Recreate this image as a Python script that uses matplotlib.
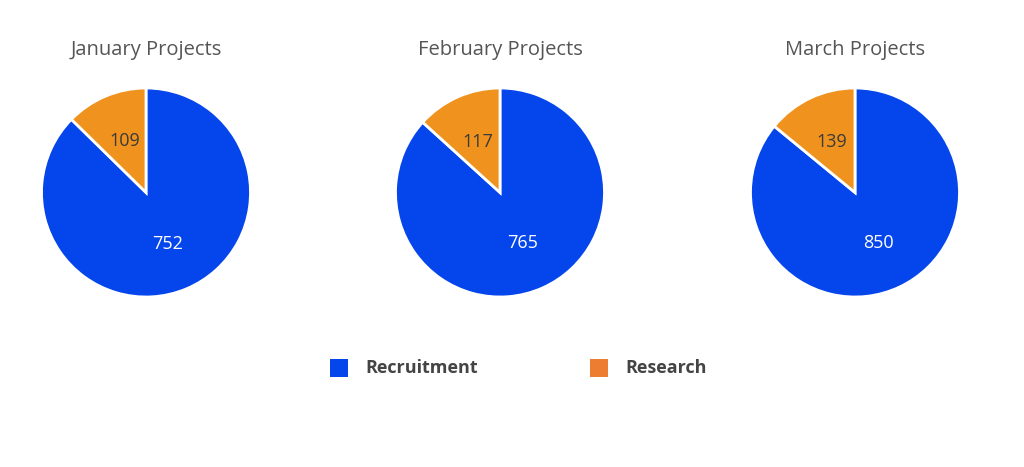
import matplotlib
matplotlib.use("Agg")
import matplotlib.pyplot as plt
from matplotlib.patches import Rectangle

months = ["January Projects", "February Projects", "March Projects"]
categories = ["Recruitment", "Research"]
recruitment = [752, 765, 850]
research = [109, 117, 139]

pie_colors = ["#0546EC", "#F0931E"]
legend_colors = ["#0546EC", "#ED7D31"]
label_colors = ["white", "#3a3a3a"]

plt.rcParams['font.family'] = ['Open Sans', 'DejaVu Sans']

W, H = 1024, 467
fig = plt.figure(figsize=(W / 100, H / 100), dpi=100)
fig.patch.set_facecolor("white")

centers_x = [146, 500, 855]
cy = 192.5
r = 104.5

for i, title in enumerate(months):
    cx = centers_x[i]
    ax = fig.add_axes([(cx - r) / W, (H - cy - r) / H, 2 * r / W, 2 * r / H])
    vals = [recruitment[i], research[i]]
    wedges, texts = ax.pie(vals, colors=pie_colors, startangle=90, counterclock=False,
                           radius=1.0, labels=[str(v) for v in vals], labeldistance=0.53,
                           wedgeprops=dict(edgecolor="white", linewidth=2),
                           textprops=dict(fontsize=13))
    for t, c in zip(texts, label_colors):
        t.set_color(c)
        t.set_ha("center")
        t.set_va("center")
    ax.set_xlim(-1, 1)
    ax.set_ylim(-1, 1)
    ax.set_aspect("equal")
    ax.axis("off")
    fig.text(cx / W, 1 - 50 / H, title, ha="center", va="center", fontsize=14.5, color="#555555")

# legend
leg_x = [330, 590]
leg_y = 368
for j, name in enumerate(categories):
    sx = leg_x[j]
    fig.patches.append(Rectangle((sx / W, 1 - (leg_y + 9) / H), 18 / W, 18 / H,
                                 transform=fig.transFigure, facecolor=legend_colors[j],
                                 edgecolor="none"))
    fig.text((sx + 35) / W, 1 - leg_y / H, name, ha="left", va="center", fontsize=13,
             fontweight="bold", color="#444444")

fig.savefig("out.png", dpi=100, facecolor="white")
